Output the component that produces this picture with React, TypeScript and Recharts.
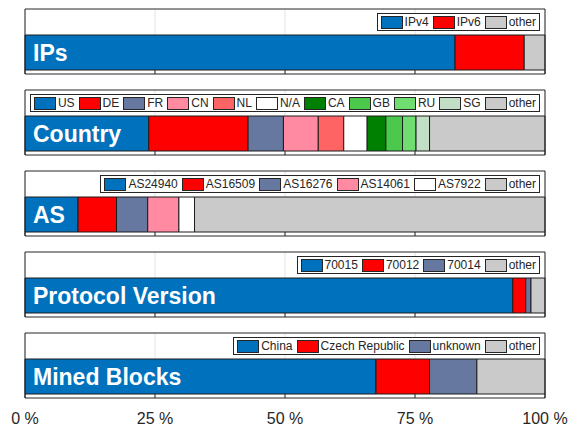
import React from "react";
import {
  BarChart,
  Bar,
  XAxis,
  YAxis,
  CartesianGrid,
  Legend,
  LabelList,
} from "recharts";

const FONT = "'Liberation Sans', Arial, Helvetica, sans-serif";
const INK = "#262626";

const ticks = [0, 25, 50, 75, 100];

// share of each group, in percent
const ipNames = ["IPv4", "IPv6", "other"];
const ipShares = [82.7, 13.3, 4.0];

const countryNames = ["US", "DE", "FR", "CN", "NL", "N/A", "CA", "GB", "RU", "SG", "other"];
const countryShares = [23.8, 19.1, 6.8, 6.7, 4.9, 4.5, 3.6, 3.2, 2.6, 2.6, 22.2];

const asNames = ["AS24940", "AS16509", "AS16276", "AS14061", "AS7922", "other"];
const asShares = [10.2, 7.4, 6.0, 6.0, 3.0, 67.4];

const protoNames = ["70015", "70012", "70014", "other"];
const protoShares = [93.8, 2.5, 1.0, 2.7];

const minedNames = ["China", "Czech Republic", "unknown", "other"];
const minedShares = [67.5, 10.3, 9.1, 13.1];

const BLUE = "#0072bd";
const RED = "#ff0000";
const SLATE = "#6677a0";
const PINK = "#ff8aa1";
const SALMON = "#ff6464";
const WHITE = "#ffffff";
const GREEN = "#008000";
const GREEN2 = "#4cc84c";
const GREEN3 = "#6fdd6f";
const MINT = "#c3dec6";
const GRAY = "#cacaca";

const panels = [
  { title: "IPs", names: ipNames, shares: ipShares, colors: [BLUE, RED, GRAY] },
  {
    title: "Country",
    names: countryNames,
    shares: countryShares,
    colors: [BLUE, RED, SLATE, PINK, SALMON, WHITE, GREEN, GREEN2, GREEN3, MINT, GRAY],
  },
  { title: "AS", names: asNames, shares: asShares, colors: [BLUE, RED, SLATE, PINK, WHITE, GRAY] },
  { title: "Protocol Version", names: protoNames, shares: protoShares, colors: [BLUE, RED, SLATE, GRAY] },
  { title: "Mined Blocks", names: minedNames, shares: minedShares, colors: [BLUE, RED, SLATE, GRAY] },
];

const LegendBox = ({ names, colors }: { names: string[]; colors: string[] }) => (
  <div
    style={{
      display: "flex",
      alignItems: "center",
      height: 18,
      boxSizing: "border-box",
      padding: "0 3px",
      background: "#fff",
      border: `1px solid ${INK}`,
      fontFamily: FONT,
      fontSize: 12,
      color: INK,
      whiteSpace: "nowrap",
    }}
  >
    {names.map((n, i) => (
      <span key={n} style={{ display: "flex", alignItems: "center", marginLeft: i ? 4 : 0 }}>
        <span
          style={{
            width: 22,
            height: 13,
            boxSizing: "border-box",
            border: `1px solid ${INK}`,
            background: colors[i],
            marginRight: 2,
          }}
        />
        <span>{n}</span>
      </span>
    ))}
  </div>
);

// matlab style ticks pointing into the box
const InTick = ({ x, y, payload, dir, showLabel }: any) => (
  <g>
    <line x1={x} x2={x} y1={y} y2={y + dir * 4} stroke={INK} />
    {showLabel && (
      <text x={x} y={y + 26} textAnchor="middle" fontFamily={FONT} fontSize={16} fill={INK}>
        {`${payload.value} %`}
      </text>
    )}
  </g>
);

function Panel({ title, names, shares, colors, last }: any) {
  const row: any = { name: title };
  shares.forEach((v: number, i: number) => (row[`s${i}`] = v));

  return (
    <BarChart
      width={574}
      height={last ? 106 : 81}
      data={[row]}
      layout="vertical"
      barCategoryGap={0}
      margin={{ top: 8, right: 28, left: 24, bottom: last ? 0 : 6 }}
    >
      <CartesianGrid horizontal={false} stroke="#e4e4e4" />
      <XAxis
        type="number"
        domain={[0, 100]}
        ticks={ticks}
        interval={0}
        height={last ? 32 : 1}
        axisLine={{ stroke: INK }}
        tickLine={false}
        tickSize={0}
        tickMargin={0}
        tick={(p: any) => <InTick {...p} dir={-1} showLabel={last} />}
      />
      <XAxis
        xAxisId="top"
        orientation="top"
        type="number"
        domain={[0, 100]}
        ticks={ticks}
        interval={0}
        height={1}
        axisLine={{ stroke: INK }}
        tickLine={false}
        tickSize={0}
        tickMargin={0}
        tick={(p: any) => <InTick {...p} dir={1} showLabel={false} />}
      />
      <YAxis
        type="category"
        dataKey="name"
        width={1}
        padding={{ top: 26, bottom: 4 }}
        axisLine={{ stroke: INK }}
        tick={false}
        tickLine={false}
      />
      <YAxis
        yAxisId="right"
        orientation="right"
        type="number"
        domain={[0, 1]}
        width={1}
        axisLine={{ stroke: INK }}
        tick={false}
        tickLine={false}
      />
      <Legend
        layout="horizontal"
        verticalAlign="middle"
        align="center"
        wrapperStyle={{ top: 13, right: 34, left: "auto", width: "auto", height: "auto" }}
        content={() => <LegendBox names={names} colors={colors} />}
      />
      {names.map((n: string, i: number) => (
        <Bar
          key={n}
          dataKey={`s${i}`}
          name={n}
          stackId="a"
          fill={colors[i]}
          stroke="#1c1c1c"
          strokeWidth={1}
          isAnimationActive={false}
        >
          {i === 0 && (
            <LabelList
              dataKey="name"
              position="insideLeft"
              offset={8}
              fill="#fff"
              fontSize={23}
              fontWeight="bold"
              fontFamily={FONT}
            />
          )}
        </Bar>
      ))}
    </BarChart>
  );
}

export default function App() {
  return (
    <div style={{ position: "absolute", left: 0, top: 0, width: 574, height: 430, background: "#fff" }}>
      {panels.map((p, i) => (
        <Panel key={p.title} {...p} last={i === panels.length - 1} />
      ))}
    </div>
  );
}
